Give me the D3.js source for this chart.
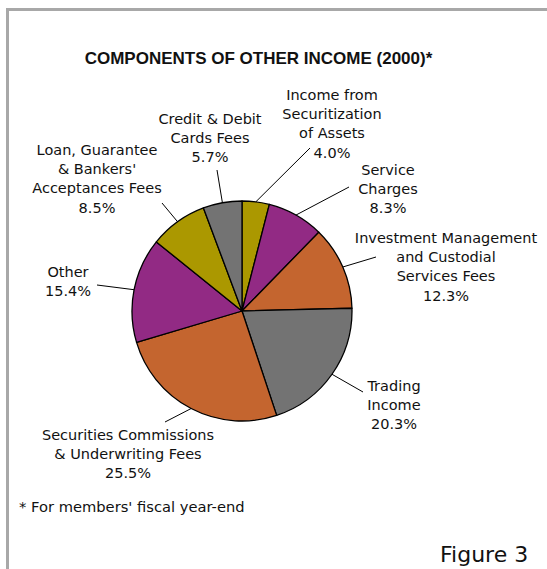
<!DOCTYPE html>
<html>
<head>
<meta charset="utf-8">
<script src="https://cdn.jsdelivr.net/npm/d3@7"></script>
<style>
  html, body { margin: 0; padding: 0; background: #fff; }
  svg { display: block; }
</style>
</head>
<body>
<svg id="chart" width="547" height="569"></svg>
<script>
// Components of other income, share of total (%), clockwise from 12 o'clock
const categories = [
  "Income from Securitization of Assets",
  "Service Charges",
  "Investment Management and Custodial Services Fees",
  "Trading Income",
  "Securities Commissions & Underwriting Fees",
  "Other",
  "Loan, Guarantee & Bankers' Acceptances Fees",
  "Credit & Debit Cards Fees"
];
const shares = [4.0, 8.3, 12.3, 20.3, 25.5, 15.4, 8.5, 5.7];
const labelLines = [
  ["Income from", "Securitization", "of Assets"],
  ["Service", "Charges"],
  ["Investment Management", "and Custodial", "Services Fees"],
  ["Trading", "Income"],
  ["Securities Commissions", "& Underwriting Fees"],
  ["Other"],
  ["Loan, Guarantee", "& Bankers'", "Acceptances Fees"],
  ["Credit & Debit", "Cards Fees"]
];
const sliceColors = ["#ab9800", "#922a84", "#c4652f", "#737373",
                     "#c4652f", "#922a84", "#ab9800", "#737373"];

// Label layout: text centre / first baseline, and leader-line outer end
const labelLayout = [
  { x: 332, y: 100, lx: 310, ly: 148 },
  { x: 388, y: 175, lx: 349, ly: 187 },
  { x: 446, y: 243, lx: 376, ly: 257 },
  { x: 394, y: 391, lx: 363, ly: 392 },
  { x: 128, y: 440, lx: 165, ly: 422 },
  { x: 68,  y: 277, lx: 97,  ly: 285 },
  { x: 97,  y: 155, lx: 162, ly: 203 },
  { x: 210, y: 124, lx: 217, ly: 170 }
];

const svg = d3.select("#chart");
const labelFont = "'DejaVu Sans', Verdana, sans-serif";

// Frame (top and left rules)
svg.append("rect").attr("x", 6).attr("y", 8).attr("width", 541).attr("height", 3).attr("fill", "#a8a8a8");
svg.append("rect").attr("x", 6).attr("y", 8).attr("width", 3).attr("height", 561).attr("fill", "#a8a8a8");

// Title
svg.append("text")
  .attr("x", 258.5).attr("y", 64)
  .attr("text-anchor", "middle")
  .attr("font-family", "'Liberation Sans', Arial, sans-serif")
  .attr("font-weight", "bold")
  .attr("font-size", 17)
  .attr("fill", "#111")
  .text("COMPONENTS OF OTHER INCOME (2000)*");

const cx = 242, cy = 311, radius = 110;
const pie = d3.pie().sort(null).value(d => d)(shares);
const arc = d3.arc().innerRadius(0).outerRadius(radius);

const g = svg.append("g").attr("transform", `translate(${cx},${cy})`);
g.selectAll("path.slice")
  .data(pie)
  .join("path")
  .attr("class", "slice")
  .attr("d", arc)
  .attr("fill", (d, i) => sliceColors[i])
  .attr("stroke", "#000")
  .attr("stroke-width", 1.3)
  .attr("stroke-linejoin", "round");

// Leader lines: from slice edge at mid-angle to label
pie.forEach((d, i) => {
  const a = (d.startAngle + d.endAngle) / 2;
  const x0 = cx + radius * Math.sin(a);
  const y0 = cy - radius * Math.cos(a);
  const L = labelLayout[i];
  svg.append("line")
    .attr("x1", x0).attr("y1", y0)
    .attr("x2", L.lx).attr("y2", L.ly)
    .attr("stroke", "#000").attr("stroke-width", 1);
});

// Labels
pie.forEach((d, i) => {
  const L = labelLayout[i];
  const lines = labelLines[i].concat([d3.format(".1f")(shares[i]) + "%"]);
  const t = svg.append("text")
    .attr("text-anchor", "middle")
    .attr("font-family", labelFont)
    .attr("font-size", 14.5)
    .attr("fill", "#111");
  lines.forEach((s, k) => {
    t.append("tspan").attr("x", L.x).attr("y", L.y + k * 19.2).text(s);
  });
});

// Footnote
svg.append("text")
  .attr("x", 19).attr("y", 512)
  .attr("font-family", labelFont)
  .attr("font-size", 14.7)
  .attr("fill", "#111")
  .text("* For members' fiscal year-end");

// Figure number
svg.append("text")
  .attr("x", 440).attr("y", 562)
  .attr("font-family", labelFont)
  .attr("font-size", 22)
  .attr("fill", "#111")
  .text("Figure 3");
</script>
</body>
</html>
